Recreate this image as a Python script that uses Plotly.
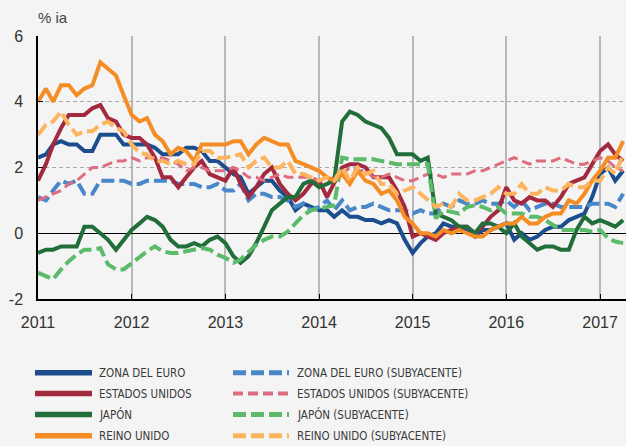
import pandas as pd
import plotly.graph_objects as go

# ---------------- data (monthly, Jan 2011 - Apr 2017, % y/y) ----------------
months = pd.date_range("2011-01-01", periods=76, freq="MS")

euro = [2.3, 2.4, 2.7, 2.8, 2.7, 2.7, 2.5, 2.5, 3.0, 3.0, 3.0, 2.7,
        2.7, 2.7, 2.7, 2.6, 2.4, 2.4, 2.4, 2.6, 2.6, 2.5, 2.2, 2.2,
        2.0, 1.8, 1.7, 1.2, 1.4, 1.6, 1.6, 1.3, 1.1, 0.7, 0.9, 0.8,
        0.7, 0.7, 0.5, 0.7, 0.5, 0.5, 0.4, 0.4, 0.3, 0.4, 0.3, -0.2,
        -0.6, -0.3, -0.1, 0.0, 0.3, 0.2, 0.2, 0.1, -0.1, 0.1, 0.1, 0.2,
        0.3, -0.2, 0.0, -0.2, -0.1, 0.1, 0.2, 0.2, 0.4, 0.5, 0.6, 1.1,
        1.8, 2.0, 1.6, 1.9]

usa = [1.6, 2.1, 2.7, 3.2, 3.6, 3.6, 3.6, 3.8, 3.9, 3.5, 3.4, 3.0,
       2.9, 2.9, 2.7, 2.3, 1.7, 1.7, 1.4, 1.7, 2.0, 2.2, 1.8, 1.7,
       1.6, 2.0, 1.5, 1.1, 1.4, 1.8, 2.0, 1.5, 1.2, 1.0, 1.2, 1.5,
       1.6, 1.1, 1.5, 2.0, 2.1, 2.1, 2.0, 1.7, 1.7, 1.7, 1.3, 0.8,
       -0.1, 0.0, -0.1, -0.2, 0.0, 0.1, 0.2, 0.2, 0.0, 0.2, 0.5, 0.7,
       1.4, 1.0, 0.9, 1.1, 1.0, 1.0, 0.8, 1.1, 1.5, 1.6, 1.7, 2.1,
       2.5, 2.7, 2.4, 2.2]

japan = [-0.6, -0.5, -0.5, -0.4, -0.4, -0.4, 0.2, 0.2, 0.0, -0.2, -0.5, -0.2,
         0.1, 0.3, 0.5, 0.4, 0.2, -0.2, -0.4, -0.4, -0.3, -0.4, -0.2, -0.1,
         -0.3, -0.7, -0.9, -0.7, -0.3, 0.2, 0.7, 0.9, 1.1, 1.1, 1.5, 1.6,
         1.4, 1.5, 1.6, 3.4, 3.7, 3.6, 3.4, 3.3, 3.2, 2.9, 2.4, 2.4,
         2.4, 2.2, 2.3, 0.6, 0.5, 0.4, 0.2, 0.2, 0.0, 0.3, 0.3, 0.2,
         0.0, 0.3, -0.1, -0.3, -0.5, -0.4, -0.4, -0.5, -0.5, 0.1, 0.5, 0.3,
         0.4, 0.3, 0.2, 0.4]

uk = [4.0, 4.4, 4.0, 4.5, 4.5, 4.2, 4.4, 4.5, 5.2, 5.0, 4.8, 4.2,
      3.6, 3.4, 3.5, 3.0, 2.8, 2.4, 2.6, 2.5, 2.2, 2.7, 2.7, 2.7,
      2.7, 2.8, 2.8, 2.4, 2.7, 2.9, 2.8, 2.7, 2.7, 2.2, 2.1, 2.0,
      1.9, 1.7, 1.6, 1.8, 1.5, 1.9, 1.6, 1.5, 1.2, 1.3, 1.0, 0.5,
      0.3, 0.0, 0.0, -0.1, 0.1, 0.0, 0.1, 0.0, -0.1, -0.1, 0.1, 0.2,
      0.3, 0.3, 0.5, 0.3, 0.3, 0.5, 0.6, 0.6, 1.0, 0.9, 1.2, 1.6,
      1.9, 2.3, 2.3, 2.8]

euro_core = [1.1, 1.0, 1.3, 1.6, 1.5, 1.6, 1.2, 1.2, 1.6, 1.6, 1.6, 1.6,
             1.5, 1.5, 1.6, 1.6, 1.6, 1.6, 1.5, 1.5, 1.5, 1.4, 1.4, 1.5,
             1.3, 1.3, 1.5, 1.0, 1.2, 1.2, 1.1, 1.1, 1.0, 0.8, 0.9, 0.7,
             0.8, 1.0, 0.7, 1.0, 0.7, 0.8, 0.8, 0.9, 0.8, 0.7, 0.7, 0.7,
             0.6, 0.7, 0.6, 0.6, 0.9, 0.8, 1.0, 0.9, 0.9, 1.0, 0.9, 0.9,
             1.0, 0.8, 1.0, 0.7, 0.8, 0.9, 0.9, 0.8, 0.8, 0.8, 0.8, 0.9,
             0.9, 0.9, 0.8, 1.2]

usa_core = [1.0, 1.1, 1.2, 1.3, 1.5, 1.6, 1.8, 2.0, 2.0, 2.1, 2.2, 2.2,
            2.3, 2.2, 2.3, 2.3, 2.3, 2.2, 2.1, 1.9, 2.0, 2.0, 1.9, 1.9,
            1.9, 2.0, 1.9, 1.7, 1.7, 1.6, 1.7, 1.8, 1.7, 1.7, 1.7, 1.7,
            1.6, 1.6, 1.7, 1.8, 2.0, 1.9, 1.9, 1.7, 1.7, 1.8, 1.7, 1.6,
            1.6, 1.7, 1.8, 1.8, 1.7, 1.8, 1.8, 1.8, 1.9, 1.9, 2.0, 2.1,
            2.2, 2.3, 2.2, 2.1, 2.2, 2.2, 2.2, 2.3, 2.2, 2.1, 2.1, 2.2,
            2.3, 2.2, 2.0, 1.9]

japan_core = [-1.2, -1.3, -1.4, -1.1, -0.85, -0.65, -0.5, -0.5, -0.45, -0.95, -1.1, -1.1,
              -0.9, -0.7, -0.55, -0.4, -0.55, -0.6, -0.6, -0.55, -0.5, -0.45, -0.5, -0.65,
              -0.75, -0.9, -0.8, -0.55, -0.35, -0.2, -0.1, -0.1, 0.05, 0.3, 0.55, 0.7,
              0.75, 0.8, 0.85, 2.3, 2.25, 2.25, 2.25, 2.25, 2.2, 2.15, 2.1, 2.1,
              2.1, 2.1, 2.1, 0.45, 0.7, 0.65, 0.6, 0.8, 0.85, 0.8, 0.7, 0.8,
              0.6, 0.6, 0.6, 0.5, 0.5, 0.4, 0.25, 0.1, 0.1, 0.1, 0.1, 0.05,
              0.1, -0.15, -0.25, -0.3]

uk_core = [3.0, 3.3, 3.4, 3.7, 3.3, 3.0, 3.1, 3.1, 3.3, 3.4, 3.2, 3.1,
           2.7, 2.45, 2.4, 2.2, 2.2, 2.1, 2.2, 2.1, 2.1, 2.5, 2.5, 2.3,
           2.3, 2.35, 2.4, 2.0, 2.2, 2.3, 2.0, 2.0, 2.2, 1.8, 1.8, 1.7,
           1.6, 1.7, 1.6, 2.0, 1.6, 2.0, 1.8, 1.9, 1.5, 1.5, 1.2, 1.3,
           1.4, 1.2, 1.0, 0.8, 0.9, 0.8, 1.2, 1.0, 1.0, 1.1, 1.2, 1.4,
           1.2, 1.2, 1.5, 1.2, 1.2, 1.4, 1.3, 1.3, 1.5, 1.4, 1.4, 1.6,
           1.6, 2.0, 1.8, 2.4]

year_ticks = ["2011", "2012", "2013", "2014", "2015", "2016", "2017"]
y_ticks = [-2, 0, 2, 4, 6]

names = ["ZONA DEL EURO", "ESTADOS UNIDOS", "JAPÓN", "REINO UNIDO"]
core_suffix = " (SUBYACENTE)"

# ---------------- styles ----------------
headline = [euro, usa, japan, uk]
core = [euro_core, usa_core, japan_core, uk_core]
solid_colors = ["#1c4e8e", "#a3293f", "#226e3a", "#f48d23"]
dash_colors = ["#4a87c9", "#de6d7f", "#5cbb6a", "#fdb45f"]
dash_widths = [4, 3, 4, 4]
dash_patterns = ["13px,5px", "10px,5px", "13px,5px", "13px,5px"]

fig = go.Figure()
for i in range(4):
    fig.add_trace(go.Scatter(x=months, y=headline[i], mode="lines", name=names[i],
                             line=dict(color=solid_colors[i], width=4),
                             showlegend=False))
    fig.add_trace(go.Scatter(x=months, y=core[i], mode="lines", name=names[i] + core_suffix,
                             line=dict(color=dash_colors[i], width=dash_widths[i],
                                       dash=dash_patterns[i]),
                             showlegend=False))

# ---------------- layout ----------------
W, H = 626, 446
ML, MR, MT, MB = 38, 0, 36, 147
PW, PH = W - ML - MR, H - MT - MB

def px_x(px):
    return (px - ML) / PW

def px_y(py):
    return (H - MB - py) / PH

tick_font = dict(family="Liberation Sans, Arial, sans-serif", size=16, color="#333333")
legend_font = dict(family="Liberation Sans Narrow, DejaVu Sans Condensed, sans-serif",
                   size=11.5, color="#3a3a3a")

fig.update_layout(
    width=W, height=H,
    margin=dict(l=ML, r=MR, t=MT, b=MB, pad=0),
    paper_bgcolor="#f4f4f4", plot_bgcolor="#f4f4f4",
    showlegend=False,
    xaxis=dict(
        type="date",
        range=["2011-01-01", "2017-04-12"],
        tickvals=[y + "-01-01" for y in year_ticks],
        ticktext=year_ticks,
        showgrid=True, gridcolor="#b8b8b8", gridwidth=1.5,
        showline=True, linecolor="#000000", linewidth=1.5,
        ticks="inside", ticklen=5, tickcolor="#000000", tickwidth=1,
        tickfont=tick_font, ticklabelstandoff=8,
        zeroline=False,
    ),
    yaxis=dict(
        range=[-2, 6],
        tickvals=y_ticks,
        ticktext=[str(v) for v in y_ticks],
        showgrid=True, gridcolor="#a8a8a8", gridwidth=1, griddash="4px,3px",
        zeroline=True, zerolinecolor="#000000", zerolinewidth=1.2,
        showline=True, linecolor="#000000", linewidth=1.5,
        ticks="inside", ticklen=5, tickcolor="#000000", tickwidth=1,
        tickfont=tick_font, ticklabelstandoff=10,
    ),
)

annotations = [dict(text="% ia", xref="paper", yref="paper", x=px_x(36), y=px_y(17.5),
                    xanchor="left", yanchor="middle", showarrow=False,
                    font=dict(family="Liberation Sans, Arial, sans-serif", size=15, color="#444444"))]
shapes = []

rows_y = [372.7, 393.5, 414.5, 435.7]
col1_sw, col1_tx = (35, 92), 97
col2_sw, col2_tx = (233, 289), 295
for i in range(4):
    yy = px_y(rows_y[i])
    shapes.append(dict(type="line", xref="paper", yref="paper",
                       x0=px_x(col1_sw[0]), x1=px_x(col1_sw[1]), y0=yy, y1=yy,
                       line=dict(color=solid_colors[i], width=5.5)))
    shapes.append(dict(type="line", xref="paper", yref="paper",
                       x0=px_x(col2_sw[0]), x1=px_x(col2_sw[1]), y0=yy, y1=yy,
                       line=dict(color=dash_colors[i], width=dash_widths[i] + 1,
                                 dash=dash_patterns[i])))
    annotations.append(dict(text=names[i], xref="paper", yref="paper",
                            x=px_x(col1_tx), y=yy, xanchor="left", yanchor="middle",
                            showarrow=False, font=legend_font))
    annotations.append(dict(text=names[i] + core_suffix, xref="paper", yref="paper",
                            x=px_x(col2_tx), y=yy, xanchor="left", yanchor="middle",
                            showarrow=False, font=legend_font))

fig.update_layout(annotations=annotations, shapes=shapes)
fig.write_html("out.html",
               config={"displayModeBar": False},
               post_script="document.body.style.margin='0px';document.body.style.overflow='hidden';")
